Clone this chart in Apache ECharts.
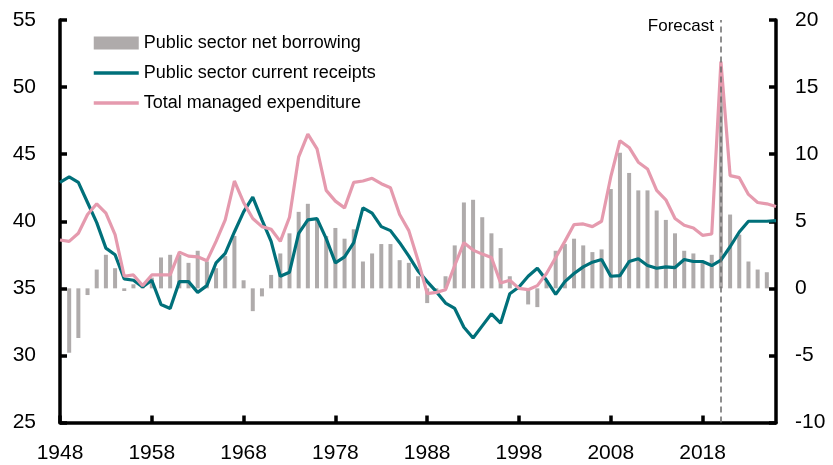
<html>
    <head>
        <meta charset="utf-8">
        <title></title>
        <script src="https://cdn.jsdelivr.net/npm/echarts@6/dist/echarts.min.js"></script>
        <style>
            body{margin:0;background:#fff;}
        </style>
    </head>
    <body>
        <div id="main" style="width:833px;height:465px;"></div>
    </body>
</html>

<script>
    // years (fiscal years, labelled by start year)
    var years=[];
    for(var y=1948;y<=2026;y++){
        years.push(String(y));
    }

    // public sector net borrowing, % of GDP (right axis)
    var borrowing=[
        null,-4.8,-3.7,-0.5,1.4,2.5,1.5,-0.2,0.3,0.1,
        0.8,2.3,2.5,2.5,1.9,2.8,2.0,1.5,2.4,3.9,
        0.6,-1.7,-0.6,1.0,2.6,4.1,5.7,6.3,5.1,3.9,
        4.5,3.7,4.4,2.0,2.6,3.3,3.3,2.1,1.9,0.9,
        -1.1,-0.2,0.9,3.2,6.4,6.6,5.3,4.1,3.0,0.9,
        -0.1,-1.2,-1.4,0.6,2.8,3.3,3.7,3.2,2.7,2.9,
        7.4,10.1,8.6,7.3,7.3,5.8,5.1,4.1,2.8,2.6,
        1.9,2.5,15.0,5.5,4.0,2.0,1.4,1.2,null
    ];

    // public sector current receipts, % of GDP (left axis)
    var receipts=[
        42.9,43.3,42.9,41.4,39.9,38.0,37.5,35.7,35.6,35.1,
        35.6,33.8,33.5,35.5,35.5,34.7,35.2,36.9,37.6,39.2,
        40.7,41.8,40.1,38.5,35.9,36.2,39.1,40.1,40.2,38.7,
        36.9,37.35,38.4,41.0,40.6,39.6,39.3,38.4,37.4,36.3,
        35.5,34.75,33.9,33.5,32.1,31.3,32.2,33.1,32.4,34.6,
        35.1,35.9,36.5,35.6,34.55,35.5,36.1,36.6,36.95,37.15,
        35.9,35.95,37.0,37.2,36.7,36.5,36.6,36.55,37.15,37.0,
        37.0,36.7,37.1,38.1,39.2,40.0,40.0,40.0,40.05
    ];

    // total managed expenditure, % of GDP (left axis)
    var expenditure=[
        38.6,38.5,39.1,40.5,41.3,40.6,39.0,35.9,36.0,35.2,
        36.0,36.0,36.0,37.7,37.4,37.35,37.05,38.5,40.1,43.0,
        41.4,40.2,39.6,39.4,38.5,40.3,44.8,46.5,45.4,42.3,
        41.5,41.0,42.9,43.0,43.2,42.8,42.5,40.5,39.3,37.1,
        34.6,34.7,34.9,36.7,38.4,37.85,37.55,37.3,35.4,35.6,
        35.0,34.9,35.2,36.1,37.3,38.5,39.75,39.8,39.6,40.0,
        43.3,46.0,45.5,44.4,43.9,42.3,41.6,40.2,39.7,39.5,
        38.95,39.05,51.9,43.4,43.25,42.0,41.4,41.3,41.1
    ];

    var forecastYear='2020';

    window.onload=function(){
        var myChart=echarts.init(document.getElementById('main'));

        var font='Liberation Sans';
        var axisTick={show:true,inside:true,length:7,lineStyle:{color:'#000',width:3.5}};

        var option={
            animation:false,
            textStyle:{fontFamily:font},
            grid:{left:60,right:57,top:20,bottom:42.5},
            legend:{
                orient:'vertical',
                left:87,
                top:28,
                itemWidth:45,
                itemHeight:13,
                itemGap:10,
                textStyle:{fontSize:18,color:'#000',fontFamily:font,lineHeight:20},
                data:[
                    {name:'Public sector net borrowing',icon:'rect'},
                    {name:'Public sector current receipts',itemStyle:{opacity:0},lineStyle:{width:3.5}},
                    {name:'Total managed expenditure',itemStyle:{opacity:0},lineStyle:{width:3.5}}
                ]
            },
            xAxis:{
                type:'category',
                data:years,
                boundaryGap:false,
                axisLine:{show:true,onZero:false,lineStyle:{color:'#000',width:3.5}},
                axisTick:{show:true,inside:true,length:7,interval:9,lineStyle:{color:'#000',width:3.5}},
                axisLabel:{interval:9,fontSize:21,color:'#000',margin:20,fontFamily:font},
                splitLine:{show:false}
            },
            yAxis:[
                {
                    type:'value',
                    min:25,
                    max:55,
                    interval:5,
                    axisLine:{show:true,lineStyle:{color:'#000',width:3.5}},
                    axisTick:axisTick,
                    axisLabel:{fontSize:21,color:'#000',margin:24,fontFamily:font},
                    splitLine:{show:false}
                },
                {
                    type:'value',
                    min:-10,
                    max:20,
                    interval:5,
                    position:'right',
                    axisLine:{show:true,lineStyle:{color:'#000',width:3.5}},
                    axisTick:axisTick,
                    axisLabel:{fontSize:21,color:'#000',margin:19,fontFamily:font},
                    splitLine:{show:false}
                }
            ],
            graphic:[{
                type:'text',
                x:714,
                y:26,
                style:{
                    text:'Forecast',
                    fontSize:17,
                    fontFamily:font,
                    fill:'#000',
                    align:'right',
                    verticalAlign:'middle',
                    textAlign:'right',
                    textVerticalAlign:'middle'
                }
            }],
            series:[
                {
                    name:'Public sector net borrowing',
                    type:'bar',
                    yAxisIndex:1,
                    barWidth:4,
                    itemStyle:{color:'#AFABAB'},
                    data:borrowing,
                    markLine:{
                        silent:true,
                        symbol:'none',
                        label:{show:false},
                        lineStyle:{color:'#6b6b6b',width:1.5,type:[6,4]},
                        data:[{xAxis:forecastYear}]
                    }
                },
                {
                    name:'Public sector current receipts',
                    type:'line',
                    yAxisIndex:0,
                    symbol:'none',
                    lineStyle:{color:'#00707A',width:3.2},
                    itemStyle:{color:'#00707A'},
                    data:receipts
                },
                {
                    name:'Total managed expenditure',
                    type:'line',
                    yAxisIndex:0,
                    symbol:'none',
                    lineStyle:{color:'#E59AAE',width:3.2},
                    itemStyle:{color:'#E59AAE'},
                    data:expenditure
                }
            ]
        };

        myChart.setOption(option);
    }
</script>
